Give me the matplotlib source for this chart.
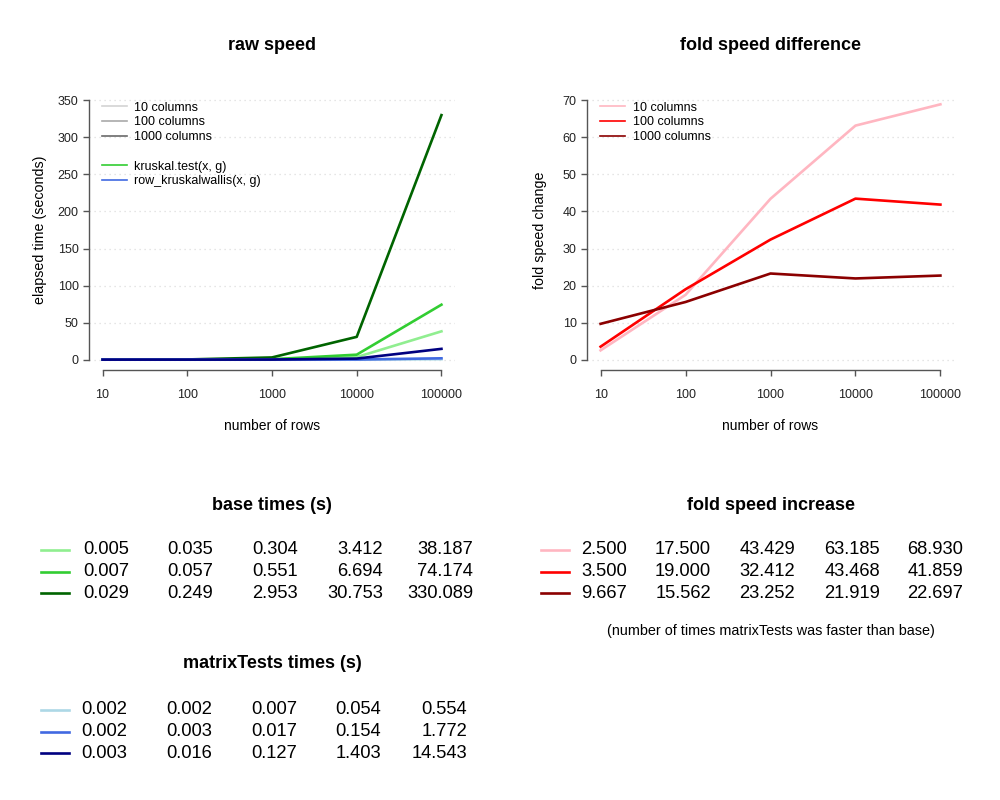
import numpy as np
import matplotlib
matplotlib.use("Agg")
import matplotlib.pyplot as plt
from matplotlib.lines import Line2D

plt.rcParams['font.family'] = ['Liberation Sans', 'DejaVu Sans']

# Data
rows = [10, 100, 1000, 10000, 100000]
row_labels = ['10', '100', '1000', '10000', '100000']
col_labels = ['10 columns', '100 columns', '1000 columns']

base_10 = [0.005, 0.035, 0.304, 3.412, 38.187]
base_100 = [0.007, 0.057, 0.551, 6.694, 74.174]
base_1000 = [0.029, 0.249, 2.953, 30.753, 330.089]

mt_10 = [0.002, 0.002, 0.007, 0.054, 0.554]
mt_100 = [0.002, 0.003, 0.017, 0.154, 1.772]
mt_1000 = [0.003, 0.016, 0.127, 1.403, 14.543]

fold_10 = [2.500, 17.500, 43.429, 63.185, 68.930]
fold_100 = [3.500, 19.000, 32.412, 43.468, 41.859]
fold_1000 = [9.667, 15.562, 23.252, 21.919, 22.697]

raw_yticks = [0, 50, 100, 150, 200, 250, 300, 350]
fold_yticks = [0, 10, 20, 30, 40, 50, 60, 70]

base_cols = ['#90EE90', '#32CD32', '#006400']
mt_cols = ['#ADD8E6', '#4169E1', '#000080']
fold_cols = ['#FFB6C1', '#FF0000', '#8B0000']
gray_cols = ['#D3D3D3', '#A9A9A9', '#696969']

W, H = 1000, 800
fig = plt.figure(figsize=(10, 8), dpi=100)


def style_axes(ax, yticks):
    lx = np.log10(rows)
    pad = 0.04 * (lx[-1] - lx[0])
    ax.set_xscale('log')
    ax.set_xlim(10 ** (lx[0] - pad), 10 ** (lx[-1] + pad))
    yr = yticks[-1] - yticks[0]
    ax.set_ylim(yticks[0] - 0.04 * yr, yticks[-1] + 0.04 * yr)
    ax.set_xticks(rows)
    ax.set_xticklabels(row_labels)
    ax.minorticks_off()
    ax.set_yticks(yticks)
    for s in ['top', 'right']:
        ax.spines[s].set_visible(False)
    ax.spines['left'].set_bounds(yticks[0], yticks[-1])
    ax.spines['bottom'].set_bounds(rows[0], rows[-1])
    for s in ['left', 'bottom']:
        ax.spines[s].set_color('#555555')
        ax.spines[s].set_linewidth(1.0)
    ax.tick_params(axis='both', length=4, width=1.0, color='#555555',
                   labelsize=9, labelcolor='#222222')
    ax.tick_params(axis='x', pad=10)
    for y in yticks:
        ax.axhline(y, color='#DDDDDD', lw=0.9, ls=(0, (1, 3)), zorder=0)


def ax_rect(l, t, r, b):
    return [l / W, 1 - b / H, (r - l) / W, (b - t) / H]


leg_kw = dict(loc='upper left', frameon=False, fontsize=9,
              handlelength=2.0, handletextpad=0.6, labelspacing=0.22,
              borderaxespad=0.2)

# raw speed
ax1 = fig.add_axes(ax_rect(89, 90, 455, 370))
style_axes(ax1, raw_yticks)
for vals, c in zip([base_10, base_100, base_1000], base_cols):
    ax1.plot(rows, vals, color=c, lw=1.9)
for vals, c in zip([mt_10, mt_100, mt_1000], mt_cols):
    ax1.plot(rows, vals, color=c, lw=1.9)
ax1.set_title('raw speed', fontsize=13, fontweight='bold', pad=28.5)
ax1.set_xlabel('number of rows', fontsize=10)
ax1.set_ylabel('elapsed time (seconds)', fontsize=10.3)
ax1.xaxis.set_label_coords(0.5, -0.175)
ax1.yaxis.set_label_coords(-0.115, 0.5)
handles = [Line2D([], [], color=c, lw=1.2) for c in gray_cols]
handles.append(Line2D([], [], color='none'))
handles.append(Line2D([], [], color=base_cols[1], lw=1.2))
handles.append(Line2D([], [], color=mt_cols[1], lw=1.2))
labels = col_labels + [' ', 'kruskal.test(x, g)', 'row_kruskalwallis(x, g)']
ax1.legend(handles, labels, bbox_to_anchor=(0.014, 0.985), **leg_kw)

# fold speed difference
ax2 = fig.add_axes(ax_rect(587, 90, 954, 370))
style_axes(ax2, fold_yticks)
for vals, c in zip([fold_10, fold_100, fold_1000], fold_cols):
    ax2.plot(rows, vals, color=c, lw=1.9)
ax2.set_title('fold speed difference', fontsize=13, fontweight='bold', pad=28.5)
ax2.set_xlabel('number of rows', fontsize=10)
ax2.set_ylabel('fold speed change', fontsize=10.3)
ax2.xaxis.set_label_coords(0.5, -0.175)
ax2.yaxis.set_label_coords(-0.11, 0.5)
ax2.legend([Line2D([], [], color=c, lw=1.2) for c in fold_cols], col_labels,
           bbox_to_anchor=(0.016, 0.985), **leg_kw)


# value tables
def draw_table(title, xc, ty, x_line, col_right, ys, series, colors):
    fig.text(xc / W, 1 - ty / H, title, ha='center', va='center',
             fontsize=13, fontweight='bold')
    for y, vals, c in zip(ys, series, colors):
        fig.add_artist(Line2D([x_line / W, (x_line + 28) / W],
                              [1 - y / H, 1 - y / H], color=c, lw=1.9,
                              transform=fig.transFigure))
        for xr, v in zip(col_right, vals):
            fig.text(xr / W, 1 - y / H, '%.3f' % v, ha='right', va='center',
                     fontsize=13.2)


draw_table('base times (s)', 272, 505, 41, [129, 213, 298, 383, 473],
           [550, 572, 593], [base_10, base_100, base_1000], base_cols)
draw_table('matrixTests times (s)', 272, 663, 41, [127, 212, 297, 381, 467],
           [710, 732, 753], [mt_10, mt_100, mt_1000], mt_cols)
draw_table('fold speed increase', 771, 505, 541, [627, 711, 795, 880, 963],
           [550, 572, 593], [fold_10, fold_100, fold_1000], fold_cols)
fig.text(771 / W, 1 - 631 / H, '(number of times matrixTests was faster than base)',
         ha='center', va='center', fontsize=10.4)

fig.savefig('out.png', dpi=100)
